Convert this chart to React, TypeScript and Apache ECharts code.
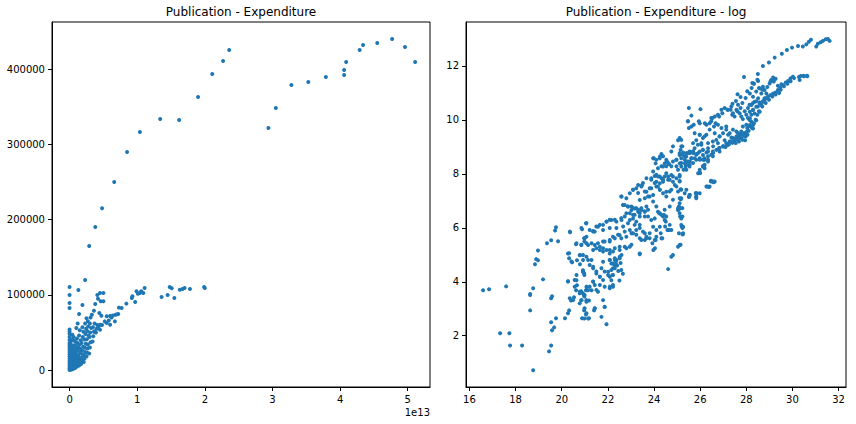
import React, { useEffect, useRef } from 'react'
import * as echarts from 'echarts'

const FONT = '"DejaVu Sans", sans-serif'
const DOT = '#1f77b4'

// left panel: expenditure in units of 1e13 (see "1e13" offset text), publications
const pubUpper: [number, number][] = [
  [0.29, 165000], [0.38, 190300], [0.48, 215100], [0.66, 250100], [0.85, 290000], [1.04, 316700],
  [1.34, 334000], [1.62, 332600], [1.9, 363200], [2.11, 393800], [2.27, 411100], [2.36, 425800],
  [2.94, 322000], [3.05, 348600], [3.28, 379200], [3.53, 383200], [3.79, 389800], [4.06, 399200],
  [4.06, 392500], [4.09, 409800], [4.29, 425800], [4.34, 432400], [4.55, 435100], [4.77, 440400],
  [4.96, 429800], [5.11, 409800]
]

const pubLower: [number, number][] = [
  [0.23, 119700], [0.13, 106400], [0, 110400], [0, 99800], [0, 89100], [0, 82500], [0.19, 86500],
  [0.14, 74500], [0.38, 87800], [0.42, 94900], [0.41, 99800], [0.45, 102400], [0.5, 102400],
  [0.46, 91400], [0.5, 91400], [0.36, 78900], [0.33, 73600], [0.44, 75800], [0.47, 72300],
  [0.55, 71400], [0.6, 72000], [0.52, 64700], [0.45, 60300], [0.42, 55900], [0.45, 53700],
  [0.37, 51400], [0.55, 62500], [0.6, 60300], [0.67, 64700], [0.68, 73600], [0.72, 74500],
  [0.58, 66000], [0.62, 70000], [0.64, 72500], [0.7, 74000], [0.73, 83000],
  [0.77, 82500], [0.84, 88300], [0.92, 95800], [0.93, 98000], [0.97, 90500], [0.99, 104700],
  [1.04, 102400], [1.06, 104700], [1.09, 102400], [1.01, 101600], [1.11, 109100], [1.36, 97100],
  [1.45, 99800], [1.48, 110400], [1.51, 108700], [1.55, 95800], [1.63, 106900], [1.67, 107800],
  [1.7, 109100], [1.78, 107800], [1.99, 110400], [2.0, 109100]
]

const pubCluster: [number, number][] = [
  [0, 0], [0, 2000], [0, 4500], [0, 7000], [0, 9500], [0, 12000], [0, 15000], [0, 18000], [0, 21000],
  [0, 24000], [0, 27000], [0, 30000], [0, 33000], [0, 36000], [0, 40000], [0, 44000], [0, 48000],
  [0, 51000], [0, 54000],
  [0.01, 1000], [0.012, 3500], [0.015, 6500], [0.01, 10500], [0.014, 14000], [0.012, 19000],
  [0.018, 23500], [0.015, 29000], [0.02, 34000], [0.018, 38000],
  [0.03, 500], [0.035, 3000], [0.028, 5500], [0.032, 8500], [0.04, 12500], [0.035, 16500],
  [0.03, 20500], [0.042, 25000], [0.038, 31000], [0.045, 41000], [0.04, 47000],
  [0.055, 1500], [0.06, 4000], [0.052, 7500], [0.065, 11000], [0.058, 15000], [0.062, 19500],
  [0.07, 24000], [0.055, 28500], [0.068, 33000], [0.075, 38500], [0.06, 44000],
  [0.08, 2500], [0.085, 6000], [0.09, 9500], [0.082, 13500], [0.095, 17500], [0.088, 22000],
  [0.1, 27000], [0.092, 31500], [0.105, 36500],
  [0.11, 4500], [0.115, 8000], [0.12, 12000], [0.108, 16000], [0.125, 20000], [0.118, 25500],
  [0.13, 30000], [0.12, 35500], [0.11, 42000], [0.1, 56000], [0.12, 62000],
  [0.14, 6000], [0.145, 10000], [0.15, 14500], [0.135, 18500], [0.155, 23000], [0.16, 28000],
  [0.148, 33500], [0.165, 39500], [0.14, 46000], [0.15, 53000],
  [0.17, 8000], [0.18, 12500], [0.175, 16500], [0.19, 21000], [0.185, 26000], [0.2, 31000],
  [0.178, 36000], [0.195, 44000], [0.205, 51000], [0.19, 57000],
  [0.21, 10500], [0.22, 15000], [0.215, 19500], [0.23, 24000], [0.225, 29500], [0.24, 35000],
  [0.22, 40500], [0.235, 48000], [0.245, 55000], [0.23, 62000],
  [0.25, 18000], [0.26, 23000], [0.265, 28500], [0.27, 34000], [0.255, 41000], [0.28, 46000],
  [0.26, 52000], [0.275, 58000], [0.27, 65000], [0.25, 69000],
  [0.29, 22000], [0.3, 30000], [0.31, 37000], [0.295, 44000], [0.305, 50000], [0.32, 56000],
  [0.3, 62000], [0.31, 70000],
  [0.34, 38000], [0.35, 45000], [0.36, 51000], [0.345, 57000], [0.37, 62000],
  [0.39, 50000], [0.4, 55000], [0.41, 60000], [0.43, 58000], [0.48, 60000]
]

// right panel: log(expenditure), log(publications)
const logLow: [number, number][] = [
  [16.59, 3.69], [16.85, 3.72], [17.59, 3.83], [17.33, 2.09], [17.73, 2.09], [17.76, 1.64],
  [18.28, 1.64], [18.76, 0.72], [18.63, 3.51], [18.63, 3.55], [18.63, 2.94], [18.76, 3.76],
  [18.84, 4.65], [18.89, 4.84], [18.97, 4.8], [18.97, 5.16], [19.19, 4.09], [19.36, 5.43],
  [19.54, 5.54], [19.71, 5.9], [19.75, 6.02], [19.84, 5.5], [19.54, 3.39], [19.58, 3.46],
  [19.54, 2.5], [19.67, 2.31], [19.58, 2.2], [19.54, 1.64], [19.45, 1.42], [19.75, 2.65],
  [20.14, 2.65], [20.27, 2.83], [20.32, 2.94], [20.36, 5.84], [20.32, 5.06], [20.32, 4.87],
  [20.27, 4.02], [20.62, 5.39], [20.88, 5.95], [21.05, 6.17], [21.36, 5.88], [20.97, 5.61],
  [20.45, 4.72], [20.66, 4.8], [20.79, 4.98], [20.79, 4.65], [20.92, 4.43], [20.97, 4.32],
  [20.64, 4.06], [20.66, 3.87], [20.62, 3.69], [20.84, 3.65], [20.4, 3.31], [20.53, 3.43],
  [20.97, 3.5], [21.05, 3.69], [21.18, 3.31], [20.97, 2.94], [21.05, 2.79], [21.18, 2.65],
  [20.88, 2.65], [21.4, 2.94]
]

const logLowBand: [number, number][] = [
  [22.66, 6.85], [23.02, 6.79], [23.23, 6.73], [23.45, 6.67], [23.67, 6.79], [22.8, 6.54],
  [23.09, 6.48], [23.38, 6.54], [23.6, 6.42], [22.58, 6.36], [22.3, 6.3], [22.08, 6.3],
  [21.94, 6.23], [21.65, 6.11], [21.5, 6.05], [21.07, 6.17], [20.85, 5.99], [20.35, 5.86],
  [21.43, 5.86], [21.79, 5.92], [22.08, 5.99], [22.37, 5.99], [22.66, 6.05], [22.87, 6.17],
  [23.16, 6.11], [23.38, 5.99], [23.6, 5.8], [23.23, 5.74], [23.02, 5.8], [22.8, 5.67],
  [22.58, 5.61], [22.44, 5.74], [22.22, 5.67], [22.08, 5.49], [21.79, 5.49], [21.57, 5.43],
  [21.29, 5.43], [21.07, 5.43], [20.85, 5.37], [20.64, 5.43], [20.99, 5.61], [21.79, 5.24],
  [22.08, 5.18], [22.3, 5.24], [22.51, 5.3], [22.8, 5.24], [23.02, 5.37], [23.45, 5.55],
  [23.67, 5.61], [23.38, 5.05], [20.27, 5.05], [20.42, 4.75], [20.78, 4.99], [20.92, 4.81],
  [21.29, 4.81], [21.36, 4.56], [21.5, 4.38], [21.65, 4.19], [21.79, 4.07], [22.01, 4.25],
  [22.15, 4.44], [22.22, 4.68], [22.3, 4.81], [22.08, 4.81], [22.37, 4.62], [22.51, 4.93],
  [22.58, 4.44], [22.22, 4.25], [21.86, 4.38], [21.36, 4.01], [21.21, 3.82], [21.07, 3.7],
  [20.78, 3.63], [20.56, 3.82], [20.64, 4.25], [20.27, 4.01], [20.56, 4.07], [20.92, 4.38],
  [20.85, 3.32], [20.49, 3.32], [20.35, 3.39], [20.99, 3.51], [21.07, 3.32], [21.5, 3.7],
  [21.65, 3.88], [22.08, 3.76], [22.22, 3.88], [21.79, 3.32], [21.43, 3.02], [21.86, 3.07],
  [20.99, 3.02], [20.78, 3.2]
]

const logMid: [number, number][] = [
  [23.99, 8.58], [24.07, 8.39], [24.17, 8.21], [24.25, 8.64], [24.32, 8.74], [24.39, 8.27],
  [24.46, 8.39], [24.56, 8.46], [24.65, 8.37], [24.53, 8.02], [24.46, 7.9], [24.32, 7.84],
  [24.17, 7.9], [24.03, 7.92], [23.88, 7.84], [24.1, 7.71], [24.25, 7.65], [24.39, 7.71],
  [24.61, 7.78], [24.75, 7.96], [24.82, 7.71], [24.9, 7.59], [24.97, 7.84], [25.11, 7.9],
  [25.04, 8.15], [25.11, 8.39], [24.97, 8.52], [25.11, 8.7], [25.26, 8.79], [25.4, 8.64],
  [25.55, 8.77], [25.69, 8.83], [25.83, 8.74], [25.98, 8.83], [26.12, 8.7], [26.27, 8.79],
  [26.34, 8.52], [26.19, 8.52], [25.98, 8.52], [25.76, 8.58], [25.55, 8.46], [25.33, 8.39],
  [25.18, 8.27], [25.4, 8.15], [25.37, 8.27], [25.91, 8.02], [26.19, 8.21], [26.27, 7.53],
  [25.98, 7.28], [25.83, 7.16], [25.55, 7.22], [25.33, 7.28], [25.11, 7.1], [25.18, 7.41],
  [24.97, 7.53], [24.75, 7.41], [24.53, 7.34], [24.39, 7.28], [24.25, 7.41], [24.1, 7.53],
  [23.88, 7.47], [23.67, 7.34], [23.81, 7.16], [23.6, 7.1], [23.38, 7.03], [23.48, 7.59],
  [23.31, 7.59], [23.09, 7.41], [22.95, 7.28], [22.8, 7.1], [22.59, 7.16], [22.66, 6.85],
  [22.87, 6.79], [23.02, 6.66], [23.16, 6.72], [23.31, 6.6], [23.45, 6.66], [23.6, 6.6],
  [23.74, 6.42], [23.88, 6.29], [24.03, 6.35], [24.17, 6.6], [24.32, 6.48], [24.46, 6.29],
  [24.53, 6.42], [24.25, 6.04], [24.1, 5.92], [23.96, 6.04], [23.81, 5.8], [23.67, 5.67],
  [23.52, 5.86], [23.38, 6.11], [23.23, 6.23], [23.09, 6.35], [22.95, 6.29], [22.73, 6.42],
  [22.59, 6.29], [22.37, 6.23], [22.15, 6.29], [21.94, 6.23], [21.79, 6.11], [21.57, 6.04],
  [21.36, 5.86], [21.21, 5.92], [21.07, 5.67], [20.98, 5.49], [20.85, 5.36], [21.14, 5.36],
  [21.43, 5.36], [21.65, 5.3], [21.86, 5.49], [22.08, 5.55], [22.3, 5.61], [22.51, 5.73],
  [22.73, 5.86], [22.95, 5.92], [23.09, 5.8], [23.23, 5.92], [23.38, 5.61], [23.6, 5.55],
  [23.81, 5.61], [24.03, 5.55], [24.1, 5.67], [24.32, 5.61], [24.61, 5.92], [24.68, 6.11],
  [24.75, 5.92], [25.11, 6.72], [25.04, 6.66], [25.18, 6.35], [25.26, 6.04], [25.26, 5.8],
  [25.04, 5.3], [25.11, 5.36], [24.82, 4.99], [24.75, 4.93], [24.61, 4.47], [23.38, 5.02],
  [22.95, 5.3], [22.73, 5.3], [22.51, 5.18], [22.22, 5.12], [22.08, 5.05], [21.94, 5.18],
  [21.79, 5.12], [21.65, 5.18], [21.5, 5.24], [21.36, 5.18], [21.07, 4.93], [20.92, 4.99],
  [21.14, 4.81], [21.21, 4.62], [20.92, 4.37], [20.98, 4.25], [21.36, 4.5], [21.5, 4.31],
  [21.65, 4.19], [21.36, 4.0], [21.43, 3.88], [21.29, 3.69], [21.07, 3.82], [20.92, 3.57],
  [20.78, 3.57], [20.98, 3.45], [21.14, 3.69], [21.57, 3.63], [21.86, 3.82], [22.08, 3.82],
  [22.22, 3.82], [22.15, 4.06], [22.08, 4.19], [22.01, 4.37], [22.22, 4.5], [22.3, 4.62],
  [22.15, 4.68], [22.37, 4.81], [22.51, 4.87], [22.59, 4.99], [22.3, 4.87], [22.08, 4.81],
  [21.79, 4.74], [21.72, 4.5], [21.07, 2.83], [20.98, 2.64], [21.14, 2.64], [21.43, 3.01],
  [21.72, 2.7], [21.86, 3.07], [21.94, 2.43], [20.85, 3.32], [21.07, 3.26],
  [22.3, 4.5], [22.4, 4.6], [22.45, 4.4], [22.55, 4.7], [22.2, 4.25], [22.5, 4.05], [22.65, 4.3],
  [22.35, 4.75], [25.08, 5.8], [25.23, 5.76], [25.2, 6.05], [25.13, 6.42], [25.23, 6.73],
  [25.08, 6.79], [25.16, 7.06], [25.52, 7.16], [25.81, 7.28], [26.31, 7.53], [26.56, 7.72],
  [26.46, 7.74], [26.0, 8.03], [26.17, 8.27], [24.22, 6.54], [24.43, 6.48], [24.51, 6.23],
  [24.48, 6.05], [24.58, 5.92], [24.65, 5.92], [24.29, 5.8], [24.36, 5.61], [24.07, 5.55],
  [23.93, 5.43], [24.04, 5.24], [23.97, 5.18]
]

const logMidBand: [number, number][] = [
  [25.47, 9.95], [25.62, 9.76], [25.94, 9.95], [26.2, 9.88], [26.48, 9.95], [26.77, 9.82],
  [26.92, 9.7], [27.13, 9.76], [27.21, 9.45], [27.06, 9.25], [26.84, 9.39], [26.63, 9.51],
  [26.41, 9.64], [26.27, 9.45], [26.12, 9.33], [25.98, 9.45], [25.83, 9.25], [25.69, 9.14],
  [26.05, 9.08], [26.34, 9.14], [26.56, 9.02], [26.77, 9.14], [26.99, 9.02], [27.21, 9.08],
  [26.84, 8.83], [26.56, 8.77], [26.34, 8.83], [26.12, 8.89], [25.91, 8.77], [25.69, 8.83],
  [25.47, 8.77], [25.33, 8.65], [25.11, 8.77], [25.18, 9.02], [25.04, 9.25], [24.82, 9.02],
  [24.75, 8.83], [24.97, 8.52], [24.82, 8.46], [24.61, 8.4], [24.53, 8.52], [24.39, 8.65],
  [24.25, 8.58], [24.1, 8.52], [23.96, 8.58], [24.32, 8.28], [24.53, 8.28], [24.75, 8.28],
  [24.97, 8.28], [25.18, 8.4], [25.4, 8.46], [25.54, 8.34], [25.62, 8.58], [25.98, 8.03],
  [26.12, 8.28], [25.83, 8.52], [23.96, 8.09], [24.1, 7.97], [24.25, 7.9], [24.39, 7.78],
  [24.61, 7.9], [24.68, 7.78], [24.82, 7.9], [25.11, 7.72], [23.88, 7.78], [24.03, 7.66],
  [24.17, 7.53], [23.81, 7.47], [23.67, 7.84], [23.52, 7.66], [23.45, 7.53], [23.23, 7.47],
  [23.09, 7.41], [23.31, 7.29], [23.6, 7.35], [23.74, 7.16], [23.96, 7.22], [24.25, 7.41],
  [24.53, 7.16], [24.68, 7.35], [24.82, 7.04], [25.04, 7.35], [25.11, 6.91], [25.4, 7.41],
  [25.54, 7.22], [25.83, 7.29], [25.83, 7.1], [22.58, 7.16], [22.73, 6.85], [22.87, 6.79],
  [23.09, 6.73], [23.31, 6.67], [23.45, 6.73], [23.6, 6.61], [23.74, 6.67], [22.95, 6.54],
  [23.16, 6.48], [23.38, 6.42], [23.96, 6.98], [24.1, 6.79], [24.25, 6.54], [24.46, 6.67],
  [24.68, 6.79], [25.04, 6.73], [25.11, 6.54], [24.39, 6.42], [26.48, 7.72], [26.63, 7.72],
  [26.41, 7.53], [25.98, 8.03]
]

const logUpper: [number, number][] = [
  [25.51, 10.44], [26.01, 10.4], [25.62, 10.16], [25.47, 9.95], [25.51, 9.7], [25.72, 9.82],
  [25.98, 9.88], [25.76, 9.51], [25.98, 9.45], [26.19, 9.39], [26.27, 9.82], [26.41, 9.88],
  [26.48, 10.07], [26.63, 10.13], [26.77, 10.19], [26.92, 10.38], [27.06, 10.44], [27.2, 10.38],
  [27.35, 10.5], [27.42, 10.25], [27.57, 10.38], [27.71, 10.25], [27.78, 10.13], [27.93, 10.32],
  [28.07, 10.44], [28.14, 10.56], [28.29, 10.63], [28.43, 10.69], [28.58, 10.65], [28.72, 10.69],
  [28.29, 10.38], [28.22, 10.19], [28.07, 10.07], [28.0, 9.82], [28.14, 9.78], [27.85, 9.76],
  [27.78, 9.57], [27.64, 9.51], [27.57, 9.39], [27.42, 9.33], [27.28, 9.2], [27.13, 9.14],
  [26.99, 9.02], [26.84, 8.96], [26.7, 8.89], [26.55, 8.83], [26.48, 8.71], [26.34, 8.65],
  [26.19, 8.58], [26.12, 8.52], [25.98, 8.58], [25.83, 8.71], [25.69, 8.77], [25.54, 8.83],
  [25.4, 8.77], [25.25, 8.71], [25.18, 8.58], [25.33, 8.52], [25.47, 8.46], [25.62, 8.58],
  [25.76, 8.95], [25.9, 9.08], [26.05, 9.14], [26.12, 8.89], [26.34, 8.95], [26.55, 9.2],
  [26.7, 9.26], [26.84, 9.39], [26.99, 9.51], [27.13, 9.64], [27.28, 9.51], [27.42, 9.64],
  [27.57, 9.57], [27.68, 9.45], [27.49, 9.2], [27.64, 9.26], [27.78, 9.33], [27.93, 9.39],
  [26.55, 8.65], [26.34, 8.46], [26.19, 8.34], [25.98, 8.15], [25.95, 8.03], [26.12, 8.27],
  [26.48, 7.74], [26.58, 7.69], [26.38, 7.51], [25.83, 7.26], [25.51, 7.14], [25.83, 7.14],
  [25.11, 7.74], [25.15, 7.43], [25.18, 7.1], [25.15, 6.73], [25.23, 6.42], [25.18, 6.11],
  [25.23, 5.99], [25.25, 5.76], [25.15, 5.37], [25.11, 7.96], [25.28, 8.15], [25.4, 8.34],
  [25.54, 8.27], [25.69, 8.4], [25.23, 9.02], [25.11, 9.33], [25.18, 9.26], [25.15, 8.89],
  [28.79, 10.75], [28.65, 10.56], [28.5, 10.5], [28.0, 10.19], [28.14, 10.0], [27.85, 10.03],
  [27.64, 10.56], [27.49, 10.13], [27.75, 10.85], [27.62, 10.95], [27.55, 10.7], [27.4, 10.6],
  [26.82, 8.96], [27.03, 9.02], [27.18, 9.08], [27.32, 9.2], [27.47, 9.26], [27.61, 9.33],
  [27.75, 9.45], [27.9, 9.51], [27.97, 9.39], [27.83, 9.26], [27.68, 9.2], [27.54, 9.14],
  [28.04, 9.7], [28.19, 9.76], [28.33, 9.88], [28.4, 10.01], [28.48, 10.19], [28.55, 10.32],
  [28.69, 10.5], [28.84, 10.63], [28.98, 10.75], [29.13, 10.87], [29.27, 10.94], [29.42, 11.0],
  [29.49, 11.12], [29.63, 11.25], [29.78, 11.34], [29.92, 11.43], [30.07, 11.55], [30.28, 11.59],
  [30.5, 11.62], [30.64, 11.62],
  [26.6, 9.76], [26.67, 9.88], [26.53, 10.07], [26.82, 10.13], [26.96, 10.25], [27.18, 10.38],
  [27.32, 10.38], [27.39, 10.19], [27.61, 10.32], [27.75, 10.44], [27.83, 10.63], [27.97, 10.81],
  [28.04, 11.06], [28.23, 11.18], [28.33, 11.34], [28.48, 11.49], [28.55, 11.18], [28.69, 11.12],
  [28.91, 11.22], [29.05, 11.43], [29.2, 11.49], [29.27, 11.53],
  [27.1, 9.0], [27.25, 9.1], [27.4, 9.15], [27.55, 9.3], [27.7, 9.35], [27.85, 9.45], [28.0, 9.55],
  [28.1, 9.6], [28.25, 9.7], [27.95, 9.25], [28.05, 9.45], [27.35, 9.35],
  [28.15, 10.98], [28.29, 10.86], [28.43, 11.05], [28.58, 11.17], [28.72, 11.23], [28.79, 11.11],
  [28.65, 10.98], [28.51, 10.8], [28.36, 10.67], [28.22, 10.55], [28.29, 10.37], [28.43, 10.49],
  [28.58, 10.61], [28.72, 10.67], [28.79, 10.8], [28.87, 10.98], [28.15, 10.06], [28.22, 9.93],
  [28.29, 9.81], [28.43, 9.99], [28.15, 10.3], [28.36, 10.24], [28.58, 10.3], [29.08, 11.48],
  [29.16, 11.57], [29.19, 11.42], [29.01, 11.35], [28.32, 11.35], [28.51, 11.44], [28.29, 9.68],
  [28.15, 9.81],
  [28.84, 10.8], [28.94, 10.86], [29.04, 10.92], [29.16, 10.98], [29.27, 11.02], [29.37, 11.11],
  [29.47, 11.19], [29.59, 11.29], [29.71, 11.39], [29.81, 11.44], [29.91, 11.54], [30.02, 11.6],
  [30.31, 11.48], [30.36, 11.63], [30.48, 11.64], [30.63, 11.64], [29.37, 11.27], [29.52, 11.32]
]

const logTop: [number, number][] = [
  [27.9, 11.59], [28.26, 11.37], [28.5, 11.7], [28.72, 12.0], [28.98, 12.13], [29.23, 12.31],
  [29.54, 12.45], [29.76, 12.59], [29.98, 12.68], [30.24, 12.74], [30.45, 12.72], [30.6, 12.8],
  [30.71, 12.9], [30.8, 12.97], [31.03, 12.72], [31.1, 12.82], [31.22, 12.88], [31.32, 12.93],
  [31.44, 12.99], [31.54, 13.0], [31.61, 12.93]
]

const leftXTicks = [0, 1, 2, 3, 4, 5]
const leftYTicks = [0, 100000, 200000, 300000, 400000]
const rightXTicks = [16, 18, 20, 22, 24, 26, 28, 30, 32]
const rightYTicks = [2, 4, 6, 8, 10, 12]
const titles = ['Publication - Expenditure', 'Publication - Expenditure - log']
const offsetText = '1e13'

const makeAxis = (gridIndex: number, min: number, max: number, ticks: number[]) => ({
  type: 'value' as const,
  gridIndex,
  min,
  max,
  axisLine: { show: true, onZero: false, lineStyle: { color: '#000', width: 1 } },
  axisTick: { show: true, inside: false, length: 4, customValues: ticks, lineStyle: { color: '#000', width: 1 } },
  axisLabel: {
    show: true,
    customValues: ticks,
    color: '#000',
    fontSize: 10,
    fontFamily: FONT,
    margin: 7,
    formatter: (v: number) => String(v)
  },
  splitLine: { show: false }
})

const App: React.FC = () => {
  const chartRef = useRef<HTMLDivElement>(null)

  useEffect(() => {
    if (!chartRef.current) return
    const chart = echarts.init(chartRef.current, undefined, { renderer: 'svg' })

    const gridStyle = { show: true, borderColor: '#000', borderWidth: 1, backgroundColor: '#fff' }

    chart.setOption({
      animation: false,
      backgroundColor: '#fff',
      textStyle: { fontFamily: FONT },
      grid: [
        { ...gridStyle, left: 52, top: 22, width: 378, height: 365 },
        { ...gridStyle, left: 466, top: 22, width: 380, height: 365 }
      ],
      xAxis: [
        makeAxis(0, -0.26, 5.33, leftXTicks),
        makeAxis(1, 15.85, 32.32, rightXTicks)
      ],
      yAxis: [
        makeAxis(0, -22600, 463000, leftYTicks),
        makeAxis(1, 0.1, 13.63, rightYTicks)
      ],
      graphic: [
        {
          type: 'text', x: 241, y: 12,
          style: { text: titles[0], fontSize: 12, fontFamily: FONT, fill: '#000', align: 'center', verticalAlign: 'middle', textAlign: 'center', textVerticalAlign: 'middle' }
        },
        {
          type: 'text', x: 656, y: 12,
          style: { text: titles[1], fontSize: 12, fontFamily: FONT, fill: '#000', align: 'center', verticalAlign: 'middle', textAlign: 'center', textVerticalAlign: 'middle' }
        },
        {
          type: 'text', x: 430, y: 412,
          style: { text: offsetText, fontSize: 10, fontFamily: FONT, fill: '#000', align: 'right', verticalAlign: 'middle', textAlign: 'right', textVerticalAlign: 'middle' }
        }
      ],
      series: [
        {
          type: 'scatter',
          xAxisIndex: 0,
          yAxisIndex: 0,
          symbolSize: 4,
          itemStyle: { color: DOT, opacity: 1 },
          data: [...pubCluster, ...pubLower, ...pubUpper]
        },
        {
          type: 'scatter',
          xAxisIndex: 1,
          yAxisIndex: 1,
          symbolSize: 4,
          itemStyle: { color: DOT, opacity: 1 },
          data: [...logLow, ...logLowBand, ...logMid, ...logMidBand, ...logUpper, ...logTop]
        }
      ]
    })

    return () => {
      chart.dispose()
    }
  }, [])

  return (
    <div
      ref={chartRef}
      style={{ position: 'absolute', left: 0, top: 0, width: '856px', height: '424px' }}
    />
  )
}

export default App
